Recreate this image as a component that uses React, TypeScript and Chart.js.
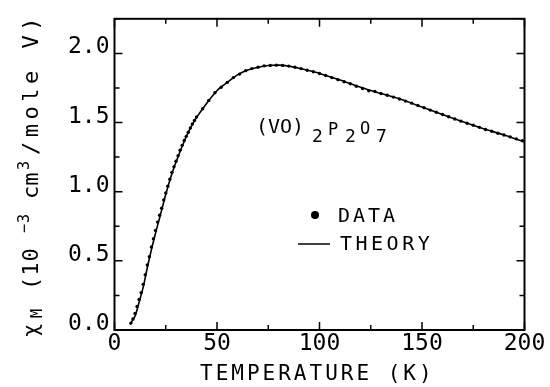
import React, { useEffect, useRef } from 'react';
import { Chart, registerables } from 'chart.js';

Chart.register(...registerables);

// Theory curve (temperature K, chi_M in 1e-3 cm^3/mole V)
const theoryT = [7.5, 10, 12, 14, 16, 18, 20, 22, 25, 28, 32, 36, 40, 45, 50, 55, 60, 65, 70, 75, 80, 85, 90, 95, 100, 110, 120, 130, 140, 150, 160, 170, 180, 190, 200];
const theoryChi = [0.04, 0.10, 0.20, 0.31, 0.45, 0.58, 0.70, 0.81, 0.98, 1.13, 1.29, 1.43, 1.535, 1.64, 1.73, 1.79, 1.845, 1.88, 1.90, 1.912, 1.915, 1.908, 1.893, 1.875, 1.855, 1.807, 1.755, 1.71, 1.666, 1.612, 1.558, 1.505, 1.455, 1.41, 1.36];

// Measured data points
const dataT = [8, 9, 10, 11, 12, 13, 14, 15, 16, 17, 18, 19, 20, 21, 22, 23, 24, 25, 26, 27, 28, 29, 30, 31, 32, 33, 34, 35, 36, 37, 38, 39, 40,
  43, 46, 49, 52, 55, 58, 61, 64, 67, 70, 73, 76, 79, 82, 85, 88, 91, 94, 97, 100, 103, 106, 109, 112, 115, 118, 121, 124, 127, 130,
  133, 136, 139, 142, 145, 148, 151, 154, 157, 160, 163, 166, 169, 172, 175, 178, 181, 184, 187, 190, 193, 196, 199];
const dataChi = [0.05, 0.08, 0.12, 0.17, 0.22, 0.27, 0.33, 0.40, 0.47, 0.53, 0.60, 0.66, 0.72, 0.78, 0.83, 0.88, 0.94, 0.99, 1.04, 1.09, 1.14, 1.18, 1.22, 1.26, 1.30, 1.335, 1.37, 1.40, 1.43, 1.46, 1.49, 1.515, 1.54,
  1.60, 1.66, 1.715, 1.755, 1.79, 1.825, 1.85, 1.875, 1.89, 1.90, 1.91, 1.913, 1.915, 1.913, 1.908, 1.90, 1.89, 1.878, 1.867, 1.855, 1.84, 1.825, 1.81, 1.795, 1.78, 1.762, 1.746, 1.73, 1.724, 1.71,
  1.697, 1.684, 1.67, 1.655, 1.64, 1.624, 1.607, 1.59, 1.574, 1.558, 1.542, 1.526, 1.51, 1.495, 1.48, 1.465, 1.45, 1.437, 1.423, 1.41, 1.396, 1.382, 1.368];

const xMajorTicks = [0, 50, 100, 150, 200];
const yMajorTicks = [0, 0.5, 1.0, 1.5, 2.0];

const FONT = '"DejaVu Sans Mono"';

function txt(ctx: CanvasRenderingContext2D, s: string, x: number, y: number, size: number, spacing = 0) {
  ctx.font = `${size}px ${FONT}`;
  (ctx as any).letterSpacing = spacing + 'px';
  ctx.textAlign = 'left';
  ctx.textBaseline = 'alphabetic';
  ctx.fillText(s, x, y);
}

const framePlugin = {
  id: 'frame',
  afterDraw(chart: any) {
    const { ctx, chartArea: a, scales } = chart;
    const xs = scales.x;
    const ys = scales.y;
    ctx.save();
    ctx.strokeStyle = '#000';
    ctx.fillStyle = '#000';
    ctx.lineWidth = 2;
    ctx.strokeRect(a.left, a.top, a.right - a.left, a.bottom - a.top);
    ctx.lineWidth = 1.5;
    ctx.beginPath();
    xs.ticks.forEach((t: any) => {
      const px = xs.getPixelForValue(t.value);
      const len = xMajorTicks.includes(t.value) ? 8 : 5;
      ctx.moveTo(px, a.bottom); ctx.lineTo(px, a.bottom - len);
      ctx.moveTo(px, a.top); ctx.lineTo(px, a.top + len);
    });
    ys.ticks.forEach((t: any) => {
      const py = ys.getPixelForValue(t.value);
      const len = yMajorTicks.includes(t.value) ? 8 : 5;
      ctx.moveTo(a.left, py); ctx.lineTo(a.left + len, py);
      ctx.moveTo(a.right, py); ctx.lineTo(a.right - len, py);
    });
    ctx.stroke();

    // x title
    txt(ctx, 'TEMPERATURE (K)', 200, 380, 21, 3);

    // y title (rotated)
    ctx.save();
    ctx.translate(37.5, 0);
    ctx.rotate(-Math.PI / 2);
    txt(ctx, 'χ', -337, 0, 22, 0);
    txt(ctx, 'M', -318, 4, 15, 0);
    txt(ctx, '(10', -290, 0, 22, 1);
    txt(ctx, '−3', -233, -9, 15, 1);
    txt(ctx, 'cm', -199, 0, 22, 0);
    txt(ctx, '3', -170, -9, 15, 0);
    txt(ctx, '/mole V)', -155, 0, 22, 4.5);
    ctx.restore();

    // compound label
    txt(ctx, '(VO)', 256, 133, 20, 0);
    txt(ctx, '2', 312, 142, 18);
    txt(ctx, 'P', 328, 135, 17);
    txt(ctx, '2', 345, 142, 18);
    txt(ctx, 'O', 360, 134, 17);
    txt(ctx, '7', 376, 142, 18);

    // legend
    ctx.beginPath();
    ctx.arc(315, 215, 4, 0, Math.PI * 2);
    ctx.fill();
    txt(ctx, 'DATA', 338, 222, 20, 3);
    ctx.beginPath();
    ctx.lineWidth = 1.5;
    ctx.moveTo(298, 244); ctx.lineTo(330, 244);
    ctx.stroke();
    txt(ctx, 'THEORY', 340, 250, 20, 3.5);
    ctx.restore();
  },
};

export default function App() {
  const ref = useRef<HTMLCanvasElement>(null);
  useEffect(() => {
    if (!ref.current) return;
    const chart = new Chart(ref.current, {
      type: 'scatter',
      data: {
        datasets: [
          {
            label: 'THEORY',
            data: theoryT.map((t, i) => ({ x: t, y: theoryChi[i] })),
            showLine: true,
            borderColor: '#000',
            borderWidth: 1.6,
            pointRadius: 0,
            tension: 0.3,
          },
          {
            label: 'DATA',
            data: dataT.map((t, i) => ({ x: t, y: dataChi[i] })),
            showLine: false,
            backgroundColor: '#000',
            borderWidth: 0,
            pointRadius: 1.7,
          },
        ],
      },
      options: {
        animation: false,
        responsive: true,
        maintainAspectRatio: false,
        layout: { padding: { left: 0, right: 25.5, top: 7.5, bottom: 0 } },
        plugins: { legend: { display: false }, tooltip: { enabled: false } },
        scales: {
          x: {
            type: 'linear',
            min: 0,
            max: 200,
            afterFit: (s: any) => { s.height = 57; },
            grid: { display: true, drawOnChartArea: false, drawTicks: false },
            border: { display: false },
            ticks: {
              stepSize: 25,
              autoSkip: false,
              maxRotation: 0,
              padding: 0,
              color: '#000',
              font: { family: 'DejaVu Sans Mono', size: 23 },
              callback: (v: any) => (xMajorTicks.includes(Number(v)) ? String(v) : ''),
            },
          },
          y: {
            type: 'linear',
            min: 0,
            max: 2.25,
            afterFit: (s: any) => { s.width = 114.5; },
            grid: { display: true, drawOnChartArea: false, drawTicks: false },
            border: { display: false },
            ticks: {
              stepSize: 0.25,
              autoSkip: false,
              padding: 5,
              labelOffset: -6,
              color: '#000',
              font: { family: 'DejaVu Sans Mono', size: 23 },
              callback: (v: any) => (yMajorTicks.includes(Number(v)) ? Number(v).toFixed(1) : ''),
            },
          },
        },
      },
      plugins: [framePlugin],
    });
    return () => chart.destroy();
  }, []);
  return (
    <div style={{ position: 'absolute', left: 0, top: 0, width: 550, height: 387, background: '#fff' }}>
      <canvas ref={ref} />
    </div>
  );
}
